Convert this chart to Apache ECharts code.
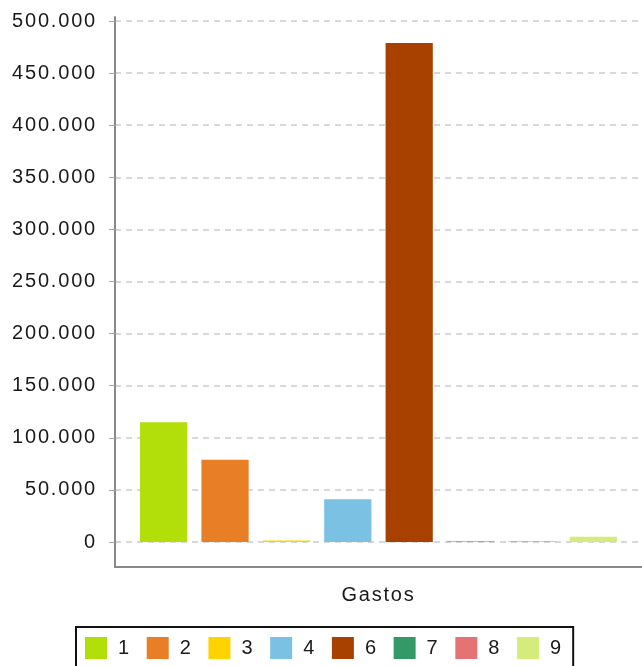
<!DOCTYPE html>
<html><head><meta charset="utf-8">
<script src="https://cdn.jsdelivr.net/npm/echarts@6/dist/echarts.min.js"></script>
<style>html,body{margin:0;padding:0;background:#fff}#c{width:642px;height:666px}</style>
</head><body><div id="c"></div>
<script>
const categories = ['Gastos'];
const seriesNames = ['1', '2', '3', '4', '6', '7', '8', '9'];
const seriesValues = [115000, 79000, 1500, 41000, 479000, 500, 500, 5000];
const seriesColors = ['#b2df0a', '#e87e25', '#fdd400', '#7ac1e4', '#a84000', '#339966', '#e57373', '#d4ec7a'];
const tickValues = [0, 50000, 100000, 150000, 200000, 250000, 300000, 350000, 400000, 450000, 500000];

const font = 'Liberation Sans, Arial, sans-serif';
const fmt = v => v === 0 ? '0' : String(v).replace(/\B(?=(\d{3})+(?!\d))/g, '.');

const option = {
  animation: false,
  grid: {left: 115, right: 0, top: 17, bottom: 99, containLabel: false},
  legend: {
    left: 76, top: 627,
    padding: [10, 12, 10, 9],
    itemWidth: 22, itemHeight: 22, itemGap: 17.6,
    borderColor: '#111', borderWidth: 2,
    icon: 'rect',
    textStyle: {fontFamily: font, fontSize: 20, color: '#1a1a1a', padding: [0, 0, 0, 6]},
    data: seriesNames
  },
  xAxis: {
    type: 'category', data: categories,
    axisLine: {onZero: false, lineStyle: {color: '#888', width: 2}},
    axisTick: {alignWithLabel: true, length: 6, lineStyle: {color: '#888', width: 2}},
    axisLabel: {fontFamily: font, fontSize: 20, color: '#1a1a1a', margin: 18}
  },
  yAxis: {
    type: 'value', min: -24000, max: 503840,
    axisLine: {show: true, lineStyle: {color: '#888', width: 2}},
    axisTick: {show: true, length: 6, customValues: tickValues, lineStyle: {color: '#aaa', width: 1}},
    axisLabel: {fontFamily: font, fontSize: 20, color: '#1a1a1a', margin: 18, customValues: tickValues, formatter: fmt},
    splitLine: {show: true, lineStyle: {color: '#ccc', type: [6, 5], width: 1.5}}
  },
  series: seriesNames.map((n, i) => ({
    name: n, type: 'bar', data: [seriesValues[i]],
    itemStyle: {color: seriesColors[i]},
    barGap: '30%', barCategoryGap: '9.5%'
  }))
};

const chart = echarts.init(document.getElementById('c'), null, {renderer: 'canvas', devicePixelRatio: 1});
chart.setOption(option);
document.querySelectorAll('#c canvas').forEach(cv => {
  const ctx = cv.getContext('2d');
  if ('letterSpacing' in ctx) ctx.letterSpacing = '1.8px';
});
chart.setOption(option, true);
</script></body></html>
